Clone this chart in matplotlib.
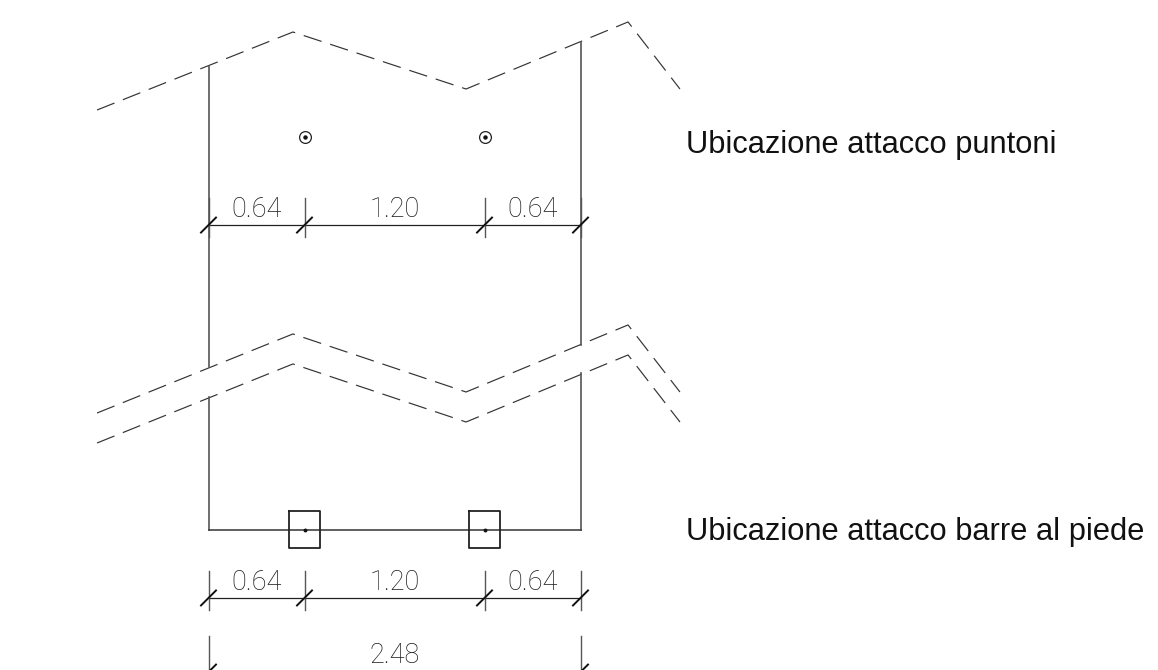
import matplotlib
matplotlib.use('Agg')
import matplotlib.pyplot as plt
import numpy as np

# all lengths in metres, origin at the foot of the left wall
spans = [0.64, 1.20, 0.64]
total = 2.48
roof_x = [-0.743, 0.563, 1.717, 2.797, 3.143]
roof_top = [2.80, 3.32, 2.94, 3.387, 2.94]
roof_mid = [0.78, 1.307, 0.92, 1.367, 0.92]
roof_low = [0.58, 1.107, 0.72, 1.167, 0.72]
wall_left_y = [3.093, 1.09, 0.885, 0.0]
wall_right_y = [3.253, 1.233, 1.047, 0.0]
strut_y = 2.62
plate_w = 0.205
plate_top = 0.13
plate_bottom = -0.12
dim_rows = [2.033, -0.453]
total_row = -0.947
note_labels = ['Ubicazione attacco puntoni', 'Ubicazione attacco barre al piede']
note_y = [2.515, -0.067]

PX = 150.0
X0, Y0 = 208.5, 530.0
plt.rcParams['lines.scale_dashes'] = False

fig = plt.figure(figsize=(11.58, 6.7), dpi=100)
ax = fig.add_axes([0, 0, 1, 1])
ax.set_xlim(-X0 / PX, (1158 - X0) / PX)
ax.set_ylim((Y0 - 670) / PX, Y0 / PX)
ax.axis('off')

joints = np.concatenate([[0], np.cumsum(spans)])
dim_font = dict(family='Roboto', weight='light', fontsize=19.5, color='#1a1a1a', ha='center', va='baseline')
note_font = dict(family='Liberation Sans', fontsize=22.2, color='#111111', ha='left', va='baseline')


def dim_line(row, xs, tick_up=0.18, tick_down=0.08):
    ax.plot([xs[0], xs[-1]], [row, row], color='#222222', lw=0.9)
    for x in xs:
        ax.plot([x, x], [row - tick_down, row + tick_up], color='#555555', lw=1.0)
        ax.plot([x - 0.05, x + 0.05], [row - 0.05, row + 0.05], color='#111111', lw=1.4)


# roof lines, dashed
for ys in (roof_top, roof_mid, roof_low):
    ax.plot(roof_x, ys, color='#333333', lw=0.85, linestyle=(0, (13.5, 6.5)))

# walls with the break between the two middle roof lines
for x, ys in ((0, wall_left_y), (total, wall_right_y)):
    ax.plot([x, x], ys[:2], color='#555555', lw=1.2)
    ax.plot([x, x], ys[2:], color='#555555', lw=1.2)
ax.plot([0, total], [0, 0], color='#333333', lw=1.1)

# connection points
for x in joints[1:3]:
    ax.plot(x, strut_y, 'o', ms=8.5, mfc='none', mec='#222222', mew=0.9)
    ax.plot(x, strut_y, 'o', ms=2.2, color='#111111')
    ax.plot([x - plate_w / 2, x + plate_w / 2, x + plate_w / 2, x - plate_w / 2, x - plate_w / 2],
            [plate_top, plate_top, plate_bottom, plate_bottom, plate_top], color='#222222', lw=1.3)
    ax.plot(x, 0, 'o', ms=1.8, color='#111111')

# dimensions
for row in dim_rows:
    dim_line(row, joints)
    for i, s in enumerate(spans):
        ax.text((joints[i] + joints[i + 1]) / 2, row + 0.055, f'{s:.2f}', **dim_font)

dim_line(total_row, [0, total], tick_up=0.24)
ax.text(total / 2, total_row + 0.06, f'{total:.2f}', **dim_font)

for label, y in zip(note_labels, note_y):
    ax.text(3.185, y, label, **note_font)

fig.savefig('out.png', dpi=100)
